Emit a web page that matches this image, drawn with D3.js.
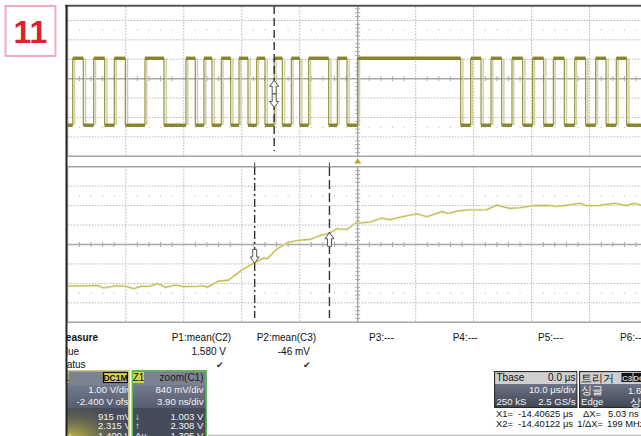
<!DOCTYPE html>
<html><head><meta charset="utf-8">
<script src="https://cdn.jsdelivr.net/npm/d3@7"></script>
<style>body{margin:0;background:#fff}svg{display:block}text{font-family:"Liberation Sans",Arial,sans-serif}</style>
</head><body><svg id="c" width="641" height="436"></svg>
<script>
// ---------- DATA ----------
// C1 (upper) digital trace: edge times in microseconds, alternating rise / fall, starting low
const c1EdgesUs = [-49.15,-47.33,-45.53,-43.64,-41.98,-40.08,-36.69,-33.41,-29.62,-28.01,-26.51,-25.13,-23.53,-21.9,-20.47,-18.92,-17.42,-15.99,-14.41,-13.0,-11.45,-10.0,-8.45,-5.0,-3.52,-1.85,0.0,17.76,19.49,21.27,22.99,24.84,26.61,28.46,30.18,32.08,33.74,35.63,37.43,39.32,41.05,42.83,44.6,46.4];
const c1LevelsV = [0.0, 3.45]; // low, high
// Z1 (zoom of C1) trace: time in ns relative to zoom centre, volts
const z1TimeNs = [-19.6,-17.51,-17.08,-16.28,-15.61,-15.07,-14.6,-14.06,-13.46,-12.92,-12.25,-11.71,-10.77,-10.44,-10.1,-9.36,-8.69,-7.75,-7.02,-6.34,-6.08,-5.41,-4.67,-3.86,-3.19,-2.52,-1.91,-1.4,-0.73,-0.17,0.84,1.62,2.18,2.85,3.97,4.65,5.66,6.1,6.66,7.33,8.67,9.34,10.24,10.91,11.8,12.7,13.37,14.04,14.94,15.39,16.28,17.29,18.07,18.63,19.03,19.5];
const z1Volt = [0.0,0.03,-0.08,0.02,0.0,-0.11,-0.01,-0.01,0.11,-0.05,0.05,-0.02,0.0,0.02,-0.04,0.22,0.26,0.72,0.98,1.21,1.19,1.62,1.9,1.99,2.02,2.19,2.28,2.48,2.45,2.71,2.77,2.94,2.87,2.98,3.13,3.0,3.22,3.14,3.24,3.29,3.3,3.5,3.36,3.39,3.48,3.49,3.45,3.49,3.58,3.48,3.49,3.58,3.48,3.58,3.5,3.52];
// scope settings
const c1VoltsPerDiv = 1.00, c1OffsetV = -2.400, timePerDivUs = 10.0;
const z1VoltsPerDiv = 0.84, z1CenterV = 1.8, z1NsPerDiv = 3.90, z1CenterUs = -14.39932;
const cursorXUs = [-14.40625, -14.40122];
const c1CursorV = [0.915, 2.315];
const z1CursorV = [1.003, 2.308];
// measurement table
const measureHeaders = ["P1:mean(C2)","P2:mean(C3)","P3:---","P4:---","P5:---","P6:---"];
const measureValues = ["1.580 V","-46 mV","","","",""];
const measureStatus = [true,true,false,false,false,false];
const c1PanelRows = ["1.00 V/div","-2.400 V ofst"];
const c1PanelCursor = ["915 mV","2.315 V","1.400 V"];
const z1PanelRows = ["840 mV/div","3.90 ns/div"];
const z1PanelCursor = ["1.003 V","2.308 V","1.305 V"];
const cursorSymbols = ["↓","↑","Δy"];

// ---------- LAYOUT ----------
const svg = d3.select("#c");
const X0 = 67.8, X1 = 647.6;
const xUp = d3.scaleLinear().domain([-5*timePerDivUs, 5*timePerDivUs]).range([X0, X1]);
const c1Center = -c1OffsetV;
const yUp = d3.scaleLinear().domain([c1Center-4*c1VoltsPerDiv, c1Center+4*c1VoltsPerDiv]).range([156.3, 1.0]);
const xLo = d3.scaleLinear().domain([-5*z1NsPerDiv, 5*z1NsPerDiv]).range([X0, X1]);
const yLo = d3.scaleLinear().domain([z1CenterV-4*z1VoltsPerDiv, z1CenterV+4*z1VoltsPerDiv]).range([322.3, 166.7]);

const defs = svg.append("defs");
defs.append("clipPath").attr("id","scr").append("rect").attr("x",66).attr("y",5).attr("width",580).attr("height",440);
defs.append("clipPath").attr("id","up").append("rect").attr("x",67).attr("y",6).attr("width",580).attr("height",151);
defs.append("clipPath").attr("id","lo").append("rect").attr("x",67).attr("y",166).attr("width",580).attr("height",157);

// label box "11"
svg.append("rect").attr("x",5.5).attr("y",6).attr("width",50).attr("height",50).attr("fill","#fff").attr("stroke","#f3a9c6").attr("stroke-width",2);
svg.append("text").attr("x",30.5).attr("y",43).attr("text-anchor","middle").attr("font-size",32).attr("font-weight","bold").attr("fill","#d9232c").text("11");

const scr = svg.append("g").attr("clip-path","url(#scr)");

function grid(g, xs, ys, xDomainStep, yDomainStep, xd, yd) {
  const xr = xs.range(), yr = ys.range();
  const top = yr[1], bot = yr[0];
  const xTicks = d3.range(0, 11).map(i => xs(xd[0] + i*xDomainStep));
  const yTicks = d3.range(0, 9).map(i => ys(yd[0] + i*yDomainStep));
  xTicks.forEach((x,i) => { if (i===5||i===0) return;
    g.append("line").attr("x1",x).attr("x2",x).attr("y1",top).attr("y2",bot).attr("stroke","#b5b5b5").attr("stroke-width",1).attr("stroke-dasharray","1.5,1.5"); });
  yTicks.forEach((y,i) => { if (i===4||i===0||i===8) return;
    g.append("line").attr("x1",xr[0]).attr("x2",xr[1]).attr("y1",y).attr("y2",y).attr("stroke","#b5b5b5").attr("stroke-width",1).attr("stroke-dasharray","1.5,1.5"); });
  const dx = (xr[1]-xr[0])/50, dy = (bot-top)/8;
  [1.5, 6.5].forEach(r => {
    const y = top + r*dy;
    d3.range(1,50).forEach(k => { if (k%5===0) return;
      g.append("rect").attr("x",xr[0]+k*dx-0.5).attr("y",y-0.5).attr("width",1).attr("height",1).attr("fill","#aaa"); });
  });
  const cx = xTicks[5], cy = yTicks[4];
  g.append("line").attr("x1",xr[0]).attr("x2",xr[1]).attr("y1",cy).attr("y2",cy).attr("stroke","#a9a9a9").attr("stroke-width",1.5);
  g.append("line").attr("x1",cx).attr("x2",cx).attr("y1",top).attr("y2",bot).attr("stroke","#a9a9a9").attr("stroke-width",1.5);
  d3.range(1,50).forEach(k => { if (k%5===0) return;
    const x = xr[0]+k*dx;
    g.append("line").attr("x1",x).attr("x2",x).attr("y1",cy-2.5).attr("y2",cy+2.5).attr("stroke","#a9a9a9").attr("stroke-width",1); });
  const ddy = dy/5;
  d3.range(1,40).forEach(k => { if (k%5===0) return;
    const y = top+k*ddy;
    g.append("line").attr("x1",cx-2.5).attr("x2",cx+2.5).attr("y1",y).attr("y2",y).attr("stroke","#a9a9a9").attr("stroke-width",1); });
  g.append("line").attr("x1",xr[0]).attr("x2",xr[1]).attr("y1",bot).attr("y2",bot).attr("stroke","#a5a5a5").attr("stroke-width",1.5);
  g.append("line").attr("x1",xr[0]).attr("x2",xr[1]).attr("y1",top).attr("y2",top).attr("stroke","#a5a5a5").attr("stroke-width",1.5);
  g.append("line").attr("x1",xr[0]).attr("x2",xr[0]).attr("y1",top).attr("y2",bot).attr("stroke","#b0b0b0").attr("stroke-width",1);
}

// ---------- UPPER PLOT ----------
const gUp = scr.append("g").attr("clip-path","url(#up)");
grid(gUp, xUp, yUp, timePerDivUs, c1VoltsPerDiv, xUp.domain(), yUp.domain());

const tStart = xUp.domain()[0], tEnd = xUp.domain()[1];
const bounds = [tStart, ...c1EdgesUs, tEnd];
const plateaus = [];
for (let i=0;i<bounds.length-1;i++) plateaus.push({t0:bounds[i], t1:bounds[i+1], v:c1LevelsV[i%2]});
const edges = c1EdgesUs.map((t,i)=>({t, rise: i%2===0}));
gUp.selectAll(".ghost").data(edges).enter().append("line")
  .attr("x1",d=>xUp(d.t)+(d.rise?1.8:2.2)).attr("x2",d=>xUp(d.t)+(d.rise?1.8:2.2))
  .attr("y1",yUp(c1LevelsV[0])).attr("y2",yUp(c1LevelsV[1]))
  .attr("stroke","#d3d0a8").attr("stroke-width",1.5);
gUp.selectAll(".edge").data(edges).enter().append("line")
  .attr("x1",d=>xUp(d.t)).attr("x2",d=>xUp(d.t))
  .attr("y1",yUp(c1LevelsV[0])).attr("y2",yUp(c1LevelsV[1]))
  .attr("stroke","#8c8a2e").attr("stroke-width",1.1);
gUp.selectAll(".plat").data(plateaus).enter().append("line")
  .attr("x1",d=>xUp(d.t0)).attr("x2",d=>xUp(d.t1))
  .attr("y1",d=>yUp(d.v)).attr("y2",d=>yUp(d.v))
  .attr("stroke","#87842c").attr("stroke-width",3.4);

const cxUp = xUp(cursorXUs[0]);
gUp.append("line").attr("x1",cxUp).attr("x2",cxUp).attr("y1",6).attr("y2",151)
  .attr("stroke","#222").attr("stroke-width",1.3).attr("stroke-dasharray","8,4");

function blockArrow(g, x, tipY, dir) { // dir -1: points up, +1: points down
  const hl=6, hw=4.5, sw=2, sl=7.5;
  const p = [[0,0],[hw,hl],[sw,hl],[sw,hl+sl],[-sw,hl+sl],[-sw,hl],[-hw,hl]]
    .map(([a,b]) => [x+a, tipY - dir*b]);
  g.append("polygon").attr("points", p.map(q=>q.join(",")).join(" "))
    .attr("fill","#fff").attr("stroke","#555").attr("stroke-width",1);
}
blockArrow(gUp, cxUp, yUp(c1CursorV[1]), -1);
blockArrow(gUp, cxUp, yUp(c1CursorV[0]), 1);

const tx = xUp(0);
scr.append("polygon").attr("points",`${tx},158 ${tx+3.5},163.5 ${tx-3.5},163.5`).attr("fill","#b3ac2e");

// ---------- LOWER PLOT ----------
const gLo = scr.append("g").attr("clip-path","url(#lo)");
grid(gLo, xLo, yLo, z1NsPerDiv, z1VoltsPerDiv, xLo.domain(), yLo.domain());
const z1 = z1TimeNs.map((t,i)=>({t, v:z1Volt[i]}));
const line = d3.line().x(d=>xLo(d.t)).y(d=>yLo(d.v));
gLo.append("path").datum(z1).attr("d",line).attr("fill","none").attr("stroke","#ebe8c4").attr("stroke-width",2.4);
gLo.append("path").datum(z1).attr("d",line).attr("fill","none").attr("stroke","#c2bd52").attr("stroke-width",1.1);

const curLo = cursorXUs.map(c => xLo((c - z1CenterUs)*1000));
gLo.append("line").attr("x1",curLo[0]).attr("x2",curLo[0]).attr("y1",167).attr("y2",318)
  .attr("stroke","#333").attr("stroke-width",1.4).attr("stroke-dasharray","8,3,2,3");
gLo.append("line").attr("x1",curLo[1]).attr("x2",curLo[1]).attr("y1",167).attr("y2",318)
  .attr("stroke","#333").attr("stroke-width",1.4).attr("stroke-dasharray","9,4");
blockArrow(gLo, curLo[0], yLo(z1CursorV[0]), 1);
blockArrow(gLo, curLo[1], yLo(z1CursorV[1]), -1);
curLo.forEach(x => scr.append("line").attr("x1",x).attr("x2",x).attr("y1",162.5).attr("y2",166.5).attr("stroke","#444").attr("stroke-width",1));

// ---------- FRAME ----------
svg.append("line").attr("x1",65).attr("x2",641).attr("y1",5.7).attr("y2",5.7).attr("stroke","#555").attr("stroke-width",2);
svg.append("line").attr("x1",66.5).attr("x2",66.5).attr("y1",5).attr("y2",436).attr("stroke","#222").attr("stroke-width",2);

// ---------- MEASUREMENTS ----------
const fs = 10;
scr.append("text").attr("x",57.5).attr("y",340.5).attr("font-size",fs).attr("font-weight","bold").attr("fill","#111").text("Measure");
scr.append("text").attr("x",54.3).attr("y",354.5).attr("font-size",fs).attr("fill","#111").text("Value");
scr.append("text").attr("x",57.2).attr("y",367.5).attr("font-size",fs).attr("fill","#111").text("Status");
const headerX = [171.7, 256.7, 369, 452.7, 538, 620];
const valueRight = [226, 310];
const checkX = [220, 306.5];
measureHeaders.forEach((h,i)=>{
  scr.append("text").attr("x",headerX[i]).attr("y",340.5).attr("font-size",fs).attr("fill","#111").text(h);
  if (measureValues[i]) scr.append("text").attr("x",valueRight[i]).attr("y",354.5).attr("text-anchor","end").attr("font-size",fs).attr("fill","#111").text(measureValues[i]);
  if (measureStatus[i]) scr.append("text").attr("x",checkX[i]).attr("y",367.5).attr("text-anchor","middle").attr("font-size",9).attr("font-family","DejaVu Sans").attr("fill","#333").text("✔");
});

// ---------- CHANNEL PANELS ----------
const g1 = defs.append("linearGradient").attr("id","rowg").attr("x1",0).attr("x2",0).attr("y1",0).attr("y2",1);
g1.append("stop").attr("offset",0).attr("stop-color","#737a8c");
g1.append("stop").attr("offset",1).attr("stop-color","#565d70");
const rg = defs.append("radialGradient").attr("id","glow").attr("cx",0.2).attr("cy",1).attr("r",0.9);
rg.append("stop").attr("offset",0).attr("stop-color","#e0d84a").attr("stop-opacity",0.85);
rg.append("stop").attr("offset",0.5).attr("stop-color","#a8a040").attr("stop-opacity",0.35);
rg.append("stop").attr("offset",1).attr("stop-color","#454a58").attr("stop-opacity",0);

const pfs = 9.6;
function chanPanel(x0, x1, border, label, right, rightIsBox, rows, cursorVals, glow, clipId) {
  const w = x1-x0;
  defs.append("clipPath").attr("id",clipId).append("rect").attr("x",x0).attr("y",370).attr("width",w).attr("height",70);
  const g = scr.append("g").attr("clip-path",`url(#${clipId})`);
  g.append("rect").attr("x",x0).attr("y",370).attr("width",w).attr("height",15).attr("fill","#7d8290");
  g.append("rect").attr("x",x0).attr("y",385).attr("width",w).attr("height",23).attr("fill","url(#rowg)");
  g.append("rect").attr("x",x0).attr("y",408).attr("width",w).attr("height",32).attr("fill","#464b59");
  if (glow) g.append("rect").attr("x",x0).attr("y",395).attr("width",w).attr("height",45).attr("fill","url(#glow)");
  g.append("rect").attr("x",x0+1.5).attr("y",372).attr("width",11).attr("height",11).attr("fill","#d6d15e");
  g.append("text").attr("x",x0+7).attr("y",381).attr("text-anchor","middle").attr("font-size",10).attr("fill","#111").text(label);
  if (rightIsBox) {
    g.append("rect").attr("x",x1-26).attr("y",372.5).attr("width",24).attr("height",10).attr("fill","#d6d15e").attr("stroke","#111").attr("stroke-width",1.2);
    g.append("text").attr("x",x1-14).attr("y",381).attr("text-anchor","middle").attr("font-size",8.5).attr("font-weight","bold").attr("fill","#111").text(right);
  } else {
    g.append("text").attr("x",x1-3.5).attr("y",381).attr("text-anchor","end").attr("font-size",pfs+0.4).attr("fill","#1a1a1a").text(right);
  }
  const rx = x1 + (rightIsBox ? 1.5 : -3.5);
  rows.forEach((r,i)=> g.append("text").attr("x",rx).attr("y",393.3+i*11.4).attr("text-anchor","end").attr("font-size",pfs).attr("fill","#f2f2f2").text(r));
  cursorVals.forEach((r,i)=>{
    g.append("text").attr("x",x0+3.5).attr("y",419.5+i*9.7).attr("font-size",pfs).attr("fill","#eee").text(cursorSymbols[i]);
    g.append("text").attr("x",rx).attr("y",419.5+i*9.7).attr("text-anchor","end").attr("font-size",pfs).attr("fill","#f2f2f2").text(r);
  });
  g.append("rect").attr("x",x0+0.75).attr("y",370.75).attr("width",w-1.5).attr("height",70).attr("fill","none").attr("stroke",border).attr("stroke-width",1.5);
}
chanPanel(56, 129.5, "#cfc97e", "C1", "DC1M", true, c1PanelRows, c1PanelCursor, true, "p1");
chanPanel(131.5, 207, "#5ebd58", "Z1", "zoom(C1)", false, z1PanelRows, z1PanelCursor, false, "p2");

// ---------- TIMEBASE / TRIGGER ----------
const g2 = defs.append("linearGradient").attr("id","tbg").attr("x1",0).attr("x2",0).attr("y1",0).attr("y2",1);
g2.append("stop").attr("offset",0).attr("stop-color","#6d7384");
g2.append("stop").attr("offset",1).attr("stop-color","#3f4552");
function infoPanel(x0, x1, clipId) {
  defs.append("clipPath").attr("id",clipId).append("rect").attr("x",x0).attr("y",371).attr("width",x1-x0).attr("height",37);
  const g = scr.append("g").attr("clip-path",`url(#${clipId})`);
  g.append("rect").attr("x",x0).attr("y",371).attr("width",x1-x0).attr("height",13).attr("fill","#cfcfcf");
  g.append("rect").attr("x",x0).attr("y",384).attr("width",x1-x0).attr("height",24).attr("fill","url(#tbg)");
  g.append("rect").attr("x",x0+0.5).attr("y",371.5).attr("width",x1-x0-1).attr("height",36).attr("fill","none").attr("stroke","#2a2a2a").attr("stroke-width",1.2);
  return g;
}
const tfs = 9.6;
const tb = infoPanel(494, 577.5, "tbc");
tb.append("text").attr("x",496.5).attr("y",381).attr("font-size",tfs+0.4).attr("fill","#111").text("Tbase");
tb.append("text").attr("x",575.5).attr("y",381).attr("text-anchor","end").attr("font-size",tfs+0.4).attr("fill","#111").text("0.0 μs");
tb.append("text").attr("x",575.5).attr("y",393).attr("text-anchor","end").attr("font-size",tfs).attr("fill","#f2f2f2").text("10.0 μs/div");
tb.append("text").attr("x",496.5).attr("y",405).attr("font-size",tfs).attr("fill","#f2f2f2").text("250 kS");
tb.append("text").attr("x",575.5).attr("y",405).attr("text-anchor","end").attr("font-size",tfs).attr("fill","#f2f2f2").text("2.5 GS/s");
const tr = infoPanel(579, 660, "trc");
const kr = '"Noto Sans CJK KR", sans-serif';
tr.append("text").attr("x",581).attr("y",381.5).attr("font-size",11).attr("font-family",kr).attr("fill","#111").text("트리거");
tr.append("rect").attr("x",621.5).attr("y",373).attr("width",11).attr("height",9).attr("fill","#111");
tr.append("text").attr("x",627).attr("y",380.8).attr("text-anchor","middle").attr("font-size",8).attr("font-weight","bold").attr("fill","#ccc").text("C3");
tr.append("rect").attr("x",633.5).attr("y",373).attr("width",11).attr("height",9).attr("fill","#111");
tr.append("text").attr("x",639).attr("y",380.8).attr("text-anchor","middle").attr("font-size",8).attr("font-weight","bold").attr("fill","#ccc").text("DC");
tr.append("text").attr("x",581).attr("y",393.5).attr("font-size",11).attr("font-family",kr).attr("fill","#f2f2f2").text("싱글");
tr.append("text").attr("x",628).attr("y",393.5).attr("font-size",tfs).attr("fill","#f2f2f2").text("1.63 V");
tr.append("text").attr("x",581).attr("y",405).attr("font-size",tfs).attr("fill","#f2f2f2").text("Edge");
tr.append("text").attr("x",630).attr("y",405.5).attr("font-size",11).attr("font-family",kr).attr("fill","#f2f2f2").text("상승");

const rdFs = 9.4;
scr.append("text").attr("x",496).attr("y",417).attr("font-size",rdFs).attr("fill","#111").text("X1=");
scr.append("text").attr("x",573).attr("y",417).attr("text-anchor","end").attr("font-size",rdFs).attr("fill","#111").text(cursorXUs[0].toFixed(5)+" μs");
scr.append("text").attr("x",496).attr("y",427).attr("font-size",rdFs).attr("fill","#111").text("X2=");
scr.append("text").attr("x",573).attr("y",427).attr("text-anchor","end").attr("font-size",rdFs).attr("fill","#111").text(cursorXUs[1].toFixed(5)+" μs");
const dX = (cursorXUs[1]-cursorXUs[0])*1000;
scr.append("text").attr("x",601).attr("y",417).attr("text-anchor","end").attr("font-size",rdFs).attr("fill","#111").text("ΔX=");
scr.append("text").attr("x",608).attr("y",417).attr("font-size",rdFs).attr("fill","#111").text(dX.toFixed(2)+" ns");
scr.append("text").attr("x",603).attr("y",427).attr("text-anchor","end").attr("font-size",rdFs).attr("fill","#111").text("1/ΔX=");
scr.append("text").attr("x",607).attr("y",427).attr("font-size",rdFs).attr("fill","#111").text(Math.round(1000/dX)+" MHz");
svg.append("line").attr("x1",208).attr("x2",641).attr("y1",435.5).attr("y2",435.5).attr("stroke","#bbb").attr("stroke-width",1.5);
</script></body></html>
